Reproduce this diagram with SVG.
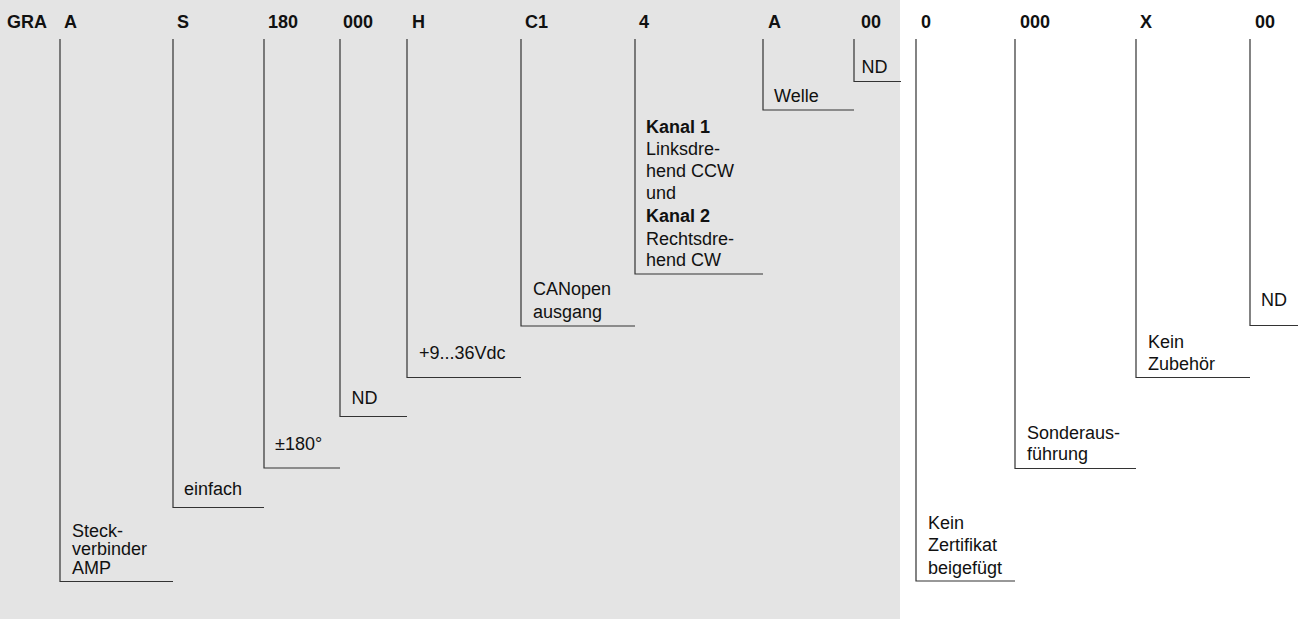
<svg xmlns="http://www.w3.org/2000/svg" width="1298" height="619" viewBox="0 0 1298 619">
  <style>
    text { font-family: "Liberation Sans", Arial, sans-serif; font-size: 18px; fill: #111; }
    .code { font-weight: bold; }
    .b { font-weight: bold; }
    .lead { fill: none; stroke: #333; stroke-width: 1.2; }
  </style>
  <!-- shaded panel behind the base code fields -->
  <rect x="0" y="0" width="1298" height="619" fill="#ffffff"/>
  <rect x="0" y="0" width="900" height="619" fill="#e4e4e4"/>

  <!-- code segments along the top -->
  <g id="header">
    <text class="code" x="7" y="28">GRA</text>
    <text class="code" x="64" y="28">A</text>
    <text class="code" x="177" y="28">S</text>
    <text class="code" x="268" y="28">180</text>
    <text class="code" x="343" y="28">000</text>
    <text class="code" x="412" y="28">H</text>
    <text class="code" x="525" y="28">C1</text>
    <text class="code" x="639" y="28">4</text>
    <text class="code" x="768" y="28">A</text>
    <text class="code" x="861" y="28">00</text>
    <text class="code" x="921" y="28">0</text>
    <text class="code" x="1020" y="28">000</text>
    <text class="code" x="1140" y="28">X</text>
    <text class="code" x="1255" y="28">00</text>
  </g>

  <!-- leader brackets from each code segment to its description -->
  <g id="connectors">
    <path class="lead" d="M60 39 V581.5 H173"/>
    <path class="lead" d="M173 39 V507.5 H264"/>
    <path class="lead" d="M264 39 V468 H340"/>
    <path class="lead" d="M340 39 V416.5 H407"/>
    <path class="lead" d="M407 39 V377.5 H521"/>
    <path class="lead" d="M521 39 V326 H635"/>
    <path class="lead" d="M635 39 V274 H763"/>
    <path class="lead" d="M763 39 V110 H854"/>
    <path class="lead" d="M854 39 V81.5 H901"/>
    <path class="lead" d="M916 39 V581 H1015"/>
    <path class="lead" d="M1015 39 V468.5 H1136"/>
    <path class="lead" d="M1136 39 V377.5 H1250"/>
    <path class="lead" d="M1250 39 V325.5 H1298"/>
  </g>

  <g id="node-connector">
    <text x="72" y="537">Steck-</text>
    <text x="72" y="555">verbinder</text>
    <text x="72" y="573.5">AMP</text>
  </g>
  <g id="node-version">
    <text x="184" y="495">einfach</text>
  </g>
  <g id="node-range">
    <text x="275" y="450">±180°</text>
  </g>
  <g id="node-resolution">
    <text x="351.5" y="403.5">ND</text>
  </g>
  <g id="node-supply">
    <text x="419" y="358.5">+9...36Vdc</text>
  </g>
  <g id="node-output">
    <text x="533" y="295">CANopen</text>
    <text x="533" y="318">ausgang</text>
  </g>
  <g id="node-channels">
    <text class="b" x="646" y="133">Kanal 1</text>
    <text x="646" y="155">Linksdre-</text>
    <text x="646" y="177">hend CCW</text>
    <text x="646" y="199">und</text>
    <text class="b" x="646" y="222">Kanal 2</text>
    <text x="646" y="244.5">Rechtsdre-</text>
    <text x="646" y="266">hend CW</text>
  </g>
  <g id="node-shaft">
    <text x="774" y="101.5">Welle</text>
  </g>
  <g id="node-nd1">
    <text x="861.5" y="73">ND</text>
  </g>
  <g id="node-certificate">
    <text x="928" y="528.5">Kein</text>
    <text x="928" y="551">Zertifikat</text>
    <text x="928" y="573.5">beigefügt</text>
  </g>
  <g id="node-special">
    <text x="1027" y="438.5">Sonderaus-</text>
    <text x="1027" y="460">führung</text>
  </g>
  <g id="node-accessory">
    <text x="1148" y="347.5">Kein</text>
    <text x="1148" y="369.5">Zubehör</text>
  </g>
  <g id="node-nd2">
    <text x="1261" y="306">ND</text>
  </g>
</svg>
